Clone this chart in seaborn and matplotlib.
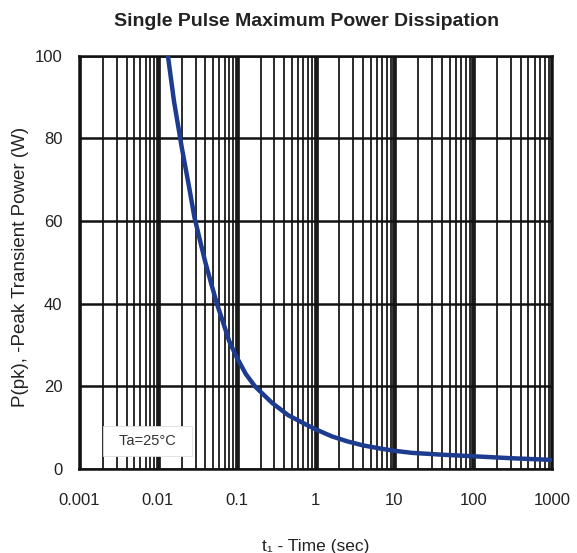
import numpy as np
import pandas as pd
import seaborn as sns
import matplotlib.pyplot as plt
from matplotlib.ticker import FixedLocator, FixedFormatter, NullFormatter

# values
pulse_time = [0.0134, 0.016, 0.020, 0.025, 0.029, 0.035, 0.040, 0.048, 0.056, 0.067,
              0.080, 0.10, 0.13, 0.17, 0.28, 0.45, 0.8, 1.0, 1.6, 2.5,
              4.0, 6.8, 10, 16.5, 40, 83, 300, 950]
peak_power = [100, 89, 78, 68, 61, 54.5, 50, 44.5, 40, 35.5,
              31, 27, 23, 20, 16, 13, 10.5, 9.6, 7.9, 6.7,
              5.7, 4.9, 4.4, 3.9, 3.45, 3.15, 2.6, 2.2]

x_ticks = [0.001, 0.01, 0.1, 1, 10, 100, 1000]
x_tick_labels = ['0.001', '0.01', '0.1', '1', '10', '100', '1000']
y_ticks = [0, 20, 40, 60, 80, 100]

curve_color = '#1d3c8f'

sns.set_theme(style='white')
plt.rcParams['font.family'] = ['Liberation Sans', 'DejaVu Sans']

df = pd.DataFrame({'t': pulse_time, 'p': peak_power})

fig = plt.figure(figsize=(5.77, 5.53), dpi=100)
ax = fig.add_axes([0.137, 0.152, 0.82, 0.747])

ax.set_xscale('log')
ax.set_xlim(0.001, 1000)
ax.set_ylim(0, 100)

# grid: decades heavy, 2..9 lighter
minor = [m * d for d in x_ticks[:-1] for m in range(2, 10)]
ax.xaxis.set_major_locator(FixedLocator(x_ticks))
ax.xaxis.set_major_formatter(FixedFormatter(x_tick_labels))
ax.xaxis.set_minor_locator(FixedLocator(minor))
ax.xaxis.set_minor_formatter(NullFormatter())
ax.yaxis.set_major_locator(FixedLocator(y_ticks))
ax.set_axisbelow(True)
ax.grid(True, which='major', axis='x', color='#1a1a1a', lw=3.4)
ax.grid(True, which='minor', axis='x', color='#1a1a1a', lw=1.3)
ax.grid(True, which='major', axis='y', color='#111111', lw=1.8)

sns.lineplot(data=df, x='t', y='p', ax=ax, color=curve_color, lw=3.2, zorder=4)

for s in ax.spines.values():
    s.set_visible(True)
    s.set_color('#111111')
    s.set_linewidth(1.8)

ax.tick_params(axis='both', which='both', length=0, labelsize=12, colors='#222222')
ax.tick_params(axis='x', pad=17)
ax.tick_params(axis='y', pad=12)

ax.set_xlabel('t₁ - Time (sec)', fontsize=12.5, color='#222222', labelpad=23)
ax.set_ylabel('P(pk), -Peak Transient Power (W)', fontsize=13.5, color='#222222', labelpad=7)
ax.yaxis.set_label_coords(-0.105, 0.49)

ax.text(0.0074, 6.8, '  Ta=25°C  ', fontsize=10.5, color='#333333', ha='center', va='center',
        zorder=3, bbox=dict(boxstyle='square,pad=0.55', facecolor='white', edgecolor='#dddddd', lw=0.6))

fig.text(307 / 577, 1 - 22 / 553, 'Single Pulse Maximum Power Dissipation',
         fontsize=14, fontweight='bold', color='#222222', ha='center', va='center')

fig.savefig('out.png', dpi=100, facecolor='white')
